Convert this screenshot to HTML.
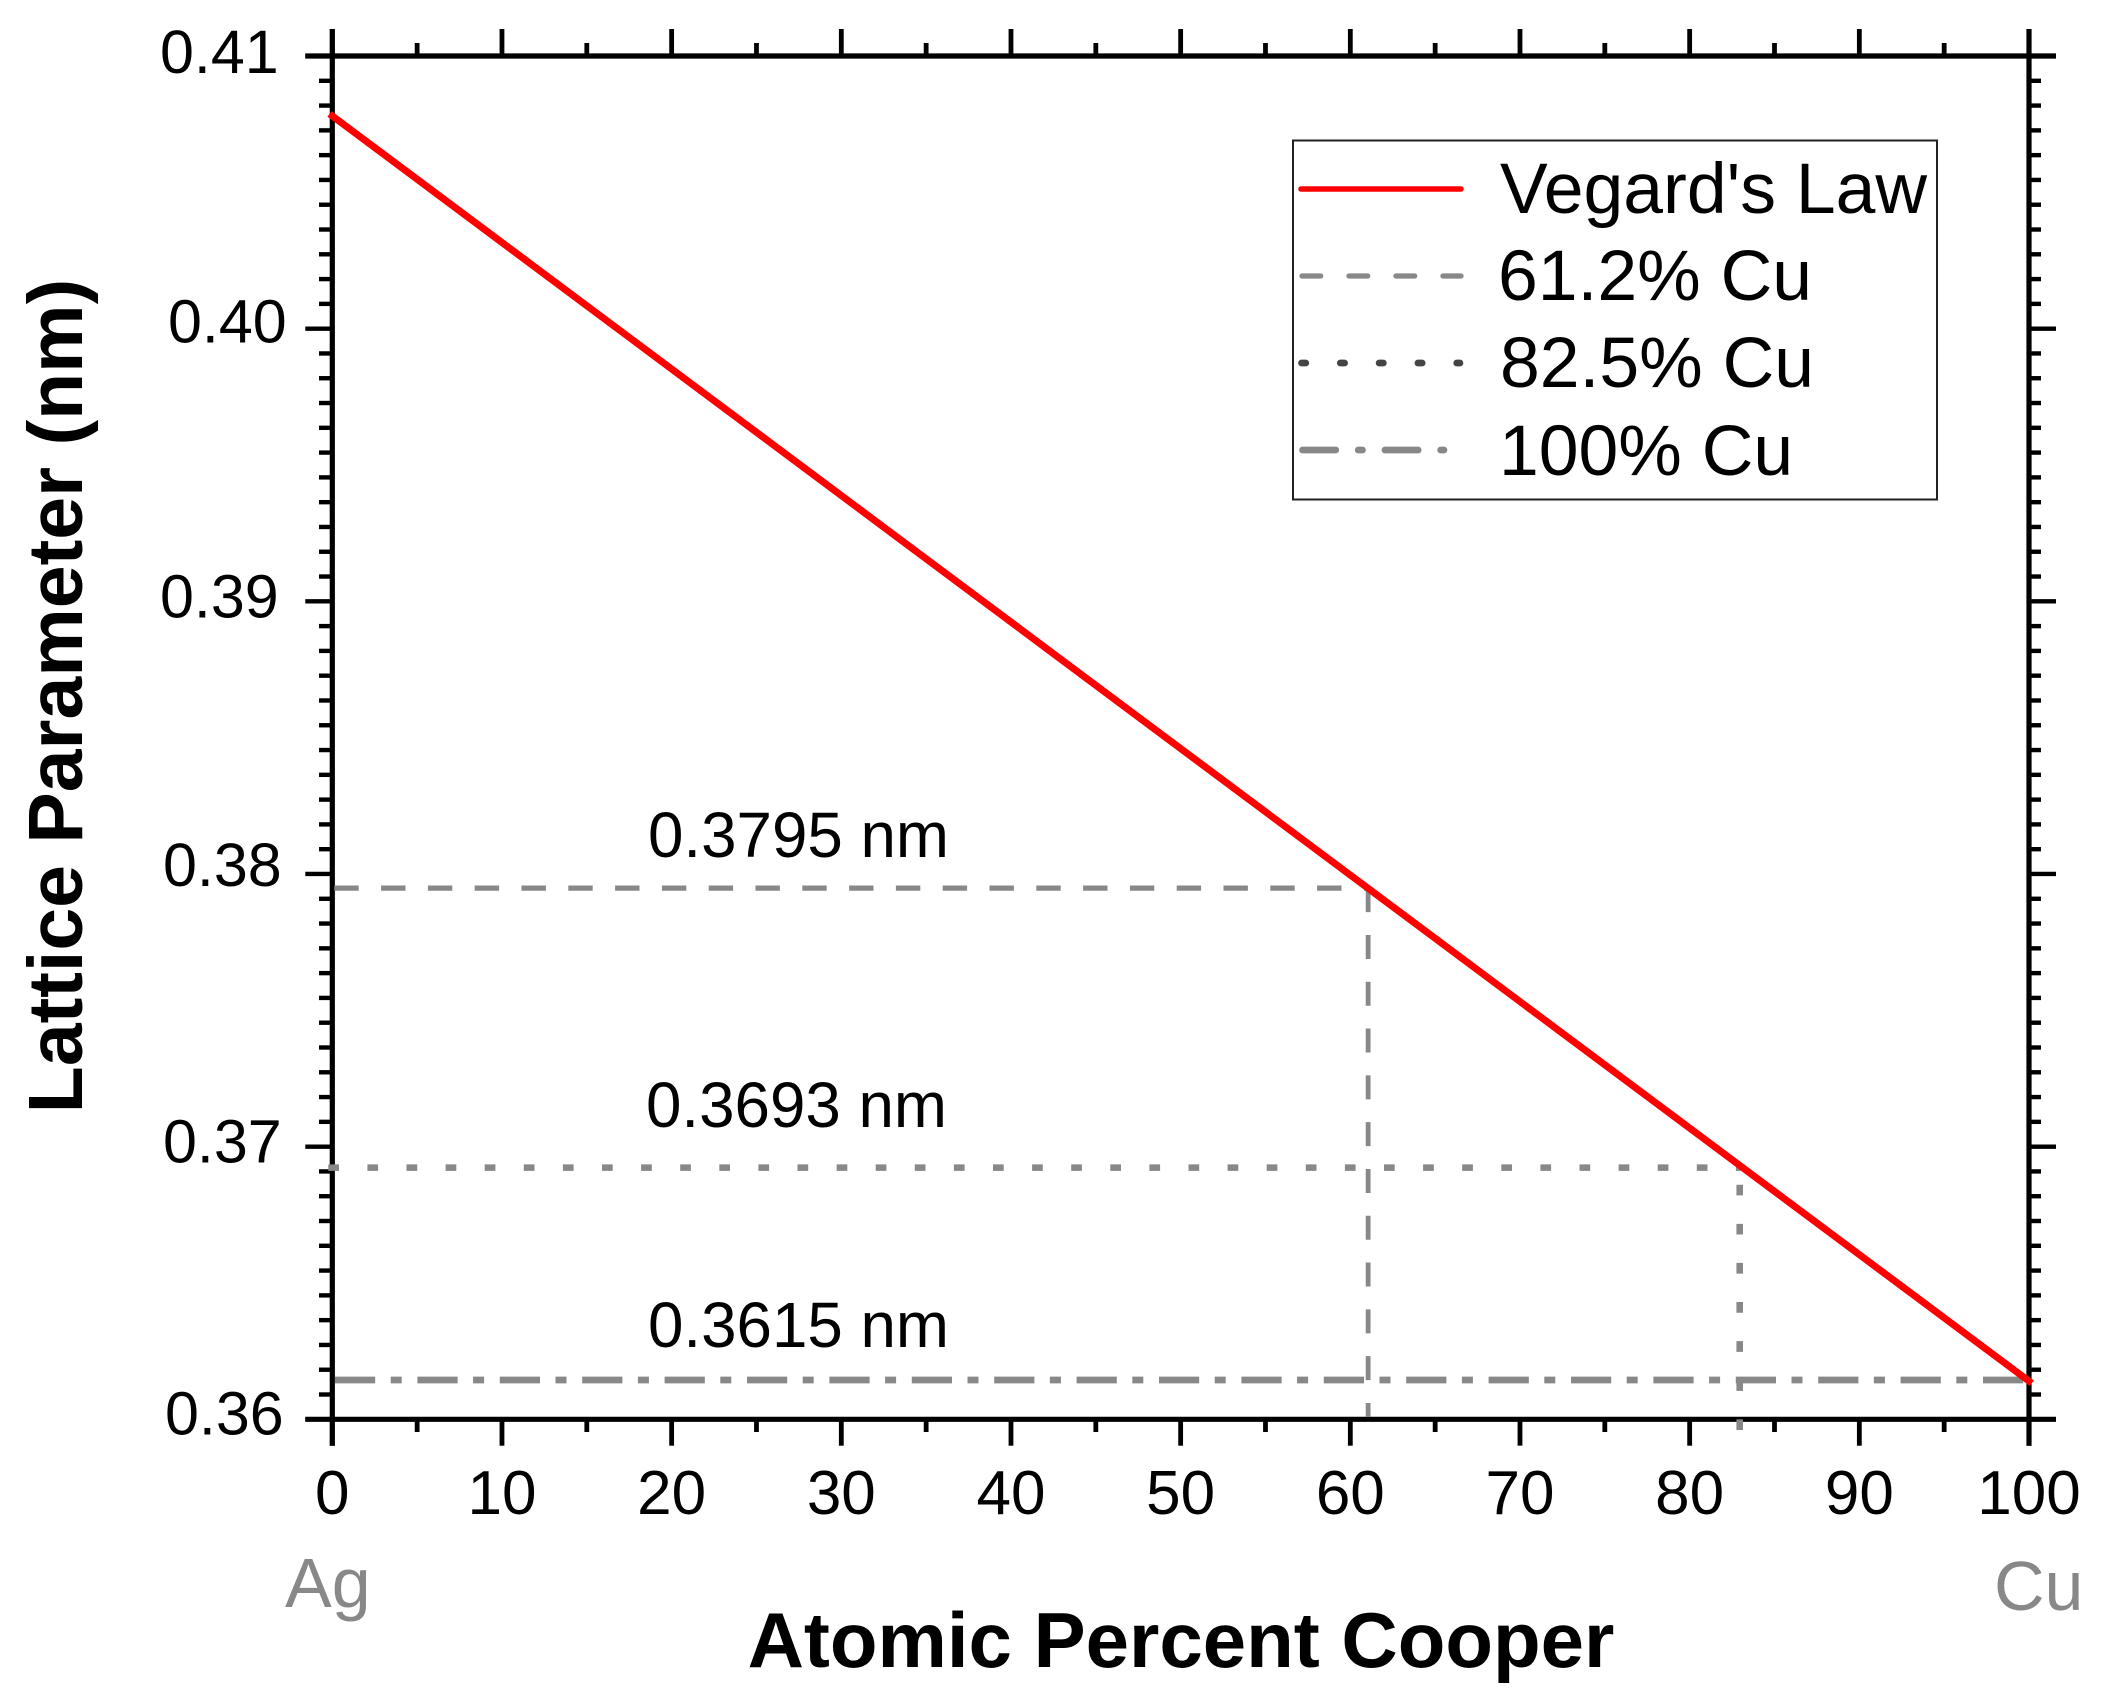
<!DOCTYPE html>
<html lang="en">
<head>
<meta charset="utf-8">
<title>Vegard's Law: Lattice Parameter vs Atomic Percent Copper</title>
<style>
  html, body { margin: 0; padding: 0; background: #fff; }
  svg { display: block; }
  text { font-family: "Liberation Sans", Arial, sans-serif; fill: #000; }
</style>
</head>
<body>
<svg id="chart" xmlns="http://www.w3.org/2000/svg" width="2106" height="1707" viewBox="0 0 2106 1707">
  <rect x="0" y="0" width="2106" height="1707" fill="#fff"/>
  <g id="ticks"></g>
  <g id="frame"></g>
  <g id="tick-labels"></g>
  <g id="marks"></g>

  <text x="648" y="857" font-size="63.7">0.3795 nm</text>
  <text x="646" y="1127" font-size="63.7">0.3693 nm</text>
  <text x="648" y="1347" font-size="63.7">0.3615 nm</text>

  <g>
    <rect x="1293" y="140.5" width="644" height="359" fill="#fff" stroke="#222" stroke-width="2"/>
    <line x1="1301" y1="189" x2="1461" y2="189" stroke="#ff0000" stroke-width="5.5" stroke-linecap="round"/>
    <text x="1500" y="213" font-size="71.5">Vegard's Law</text>
    <line x1="1302" y1="276" x2="1461" y2="276" stroke="#888" stroke-width="5.3" stroke-linecap="round" stroke-dasharray="18.7 28.3"/>
    <text x="1498" y="300" font-size="71.5">61.2% Cu</text>
    <line x1="1301.5" y1="363" x2="1460" y2="363" stroke="#444" stroke-width="6.7" stroke-linecap="round" stroke-dasharray="4.3 34.5"/>
    <text x="1500" y="387" font-size="71.5">82.5% Cu</text>
    <line x1="1302.5" y1="450" x2="1444" y2="450" stroke="#888" stroke-width="6.7" stroke-linecap="round" stroke-dasharray="33.3 22.4 4.3 22.4"/>
    <text x="1499" y="475" font-size="71.5">100% Cu</text>
  </g>

  <text x="285" y="1607" font-size="70" style="fill:#888">Ag</text>
  <text x="1994" y="1610" font-size="70" style="fill:#888">Cu</text>

  <text x="1181" y="1667" font-size="78" font-weight="bold" text-anchor="middle">Atomic Percent Cooper</text>
  <text transform="translate(82 696) rotate(-90)" x="0" y="0" font-size="77" font-weight="bold" text-anchor="middle">Lattice Parameter (nm)</text>
</svg>

<script>
// ---- chart data ----
const xTicks = [0, 10, 20, 30, 40, 50, 60, 70, 80, 90, 100];
const xTickLabels = ['0', '10', '20', '30', '40', '50', '60', '70', '80', '90', '100'];
const yTicks = [0.36, 0.37, 0.38, 0.39, 0.40, 0.41];
const yTickLabels = ['0.36', '0.37', '0.38', '0.39', '0.40', '0.41'];
const vegardX = [0, 100];
const vegardY = [0.4078, 0.3614];
const guideNames = ['61-2-cu', '82-5-cu'];
const guideX = [61.05, 82.95];
const guideY = [0.37948, 0.36923];
const copperLatticeY = [0.36144];

// ---- layout ----
const NS = 'http://www.w3.org/2000/svg';
const plot = { left: 332.3, right: 2029, top: 56, bottom: 1419.3 };
const xMin = 0, xMax = 100, yMin = 0.36, yMax = 0.41;
const X = v => plot.left + (v - xMin) / (xMax - xMin) * (plot.right - plot.left);
const Y = v => plot.bottom - (v - yMin) / (yMax - yMin) * (plot.bottom - plot.top);

const ticksG = document.getElementById('ticks');
const frameG = document.getElementById('frame');
const labelsG = document.getElementById('tick-labels');
const marksG = document.getElementById('marks');

function make(parent, tag, attrs, text) {
  const el = document.createElementNS(NS, tag);
  for (const k in attrs) el.setAttribute(k, attrs[k]);
  if (text !== undefined) el.textContent = text;
  parent.appendChild(el);
  return el;
}
function tickLine(x1, y1, x2, y2, w) {
  const el = make(ticksG, 'line', { x1, y1, x2, y2, stroke: '#000', 'stroke-width': w });
  
  
}

// hand-placed offsets of the y tick labels in the original figure
const yLabelOffset = {
  '0.41': [160, 17], '0.40': [168, 14], '0.39': [160, 16],
  '0.38': [163, 12], '0.37': [163, 16], '0.36': [165, 15]
};

// x ticks: bottom + top axes
xTicks.forEach((v, i) => {
  tickLine(X(v), plot.bottom, X(v), 1445.7, 4.8);
  tickLine(X(v), plot.top, X(v), 29, 4.8);
  if (i < xTicks.length - 1) {
    const mid = (v + xTicks[i + 1]) / 2;
    tickLine(X(mid), plot.bottom, X(mid), 1432, 4.8);
    tickLine(X(mid), plot.top, X(mid), 43, 4.8);
  }
  const t = make(labelsG, 'text', { x: X(v), y: 1514, 'font-size': 62, 'text-anchor': 'middle' }, xTickLabels[i]);
  
  
});

// y ticks: left + right axes, ten minor ticks per major interval
yTicks.forEach((v, i) => {
  tickLine(305.3, Y(v), plot.left, Y(v), 4.4);
  tickLine(plot.right, Y(v), 2056, Y(v), 4.4);
  if (i < yTicks.length - 1) {
    for (let k = 1; k <= 10; k++) {
      const m = v + (yTicks[i + 1] - v) * k / 11;
      tickLine(319, Y(m), plot.left, Y(m), 4.4);
      tickLine(plot.right, Y(m), 2041, Y(m), 4.4);
    }
  }
  const off = yLabelOffset[yTickLabels[i]];
  const t = make(labelsG, 'text', { x: off[0], y: Y(v) + off[1], 'font-size': 61 }, yTickLabels[i]);
  
  
});

// frame lines
[
  ['axis-left', plot.left, 29, plot.left, 1445.7],
  ['axis-right', plot.right, 29, plot.right, 1445.7],
  ['axis-top', 305.3, plot.top, 2056, plot.top],
  ['axis-bottom', 305.3, plot.bottom, 2056, plot.bottom]
].forEach(a => {
  const l = make(frameG, 'line', { x1: a[1], y1: a[2], x2: a[3], y2: a[4], stroke: '#000', 'stroke-width': 5.2 });
  
  
});

// 100% Cu dash-dot horizontal line
const cuLine = make(marksG, 'line', {
  x1: X(xMin), y1: Y(copperLatticeY[0]), x2: X(xMax), y2: Y(copperLatticeY[0]),
  stroke: '#888', 'stroke-width': 6.7, 'stroke-dasharray': '40.2 15.5 11 15.7', 'stroke-dashoffset': -2.7
});



// 61.2% Cu dashed guide
const dashH = make(marksG, 'line', {
  x1: X(xMin), y1: Y(guideY[0]), x2: X(guideX[0]) + 2, y2: Y(guideY[0]),
  stroke: '#888', 'stroke-width': 5.3, 'stroke-dasharray': '24.4 22.4', 'stroke-dashoffset': -2
});


const dashV = make(marksG, 'line', {
  x1: X(guideX[0]), y1: Y(guideY[0]), x2: X(guideX[0]), y2: 1417,
  stroke: '#888', 'stroke-width': 4.8, 'stroke-dasharray': '24 22.8'
});



// 82.5% Cu dotted guide
const dotH = make(marksG, 'line', {
  x1: X(xMin) - 4, y1: Y(guideY[1]), x2: X(guideX[1]) + 5, y2: Y(guideY[1]),
  stroke: '#888', 'stroke-width': 6.6, 'stroke-dasharray': '10.7 28.4'
});


const dotV = make(marksG, 'line', {
  x1: X(guideX[1]), y1: Y(guideY[1]), x2: X(guideX[1]), y2: 1430,
  stroke: '#888', 'stroke-width': 6.6, 'stroke-dasharray': '10.7 28.4', 'stroke-dashoffset': 22
});



// Vegard's law line
const vegard = make(marksG, 'polyline', {
  points: vegardX.map((v, i) => X(v) + ',' + Y(vegardY[i])).join(' '),
  fill: 'none', stroke: '#ff0000', 'stroke-width': 7, 'stroke-linecap': 'square'
});


</script>
</body>
</html>
